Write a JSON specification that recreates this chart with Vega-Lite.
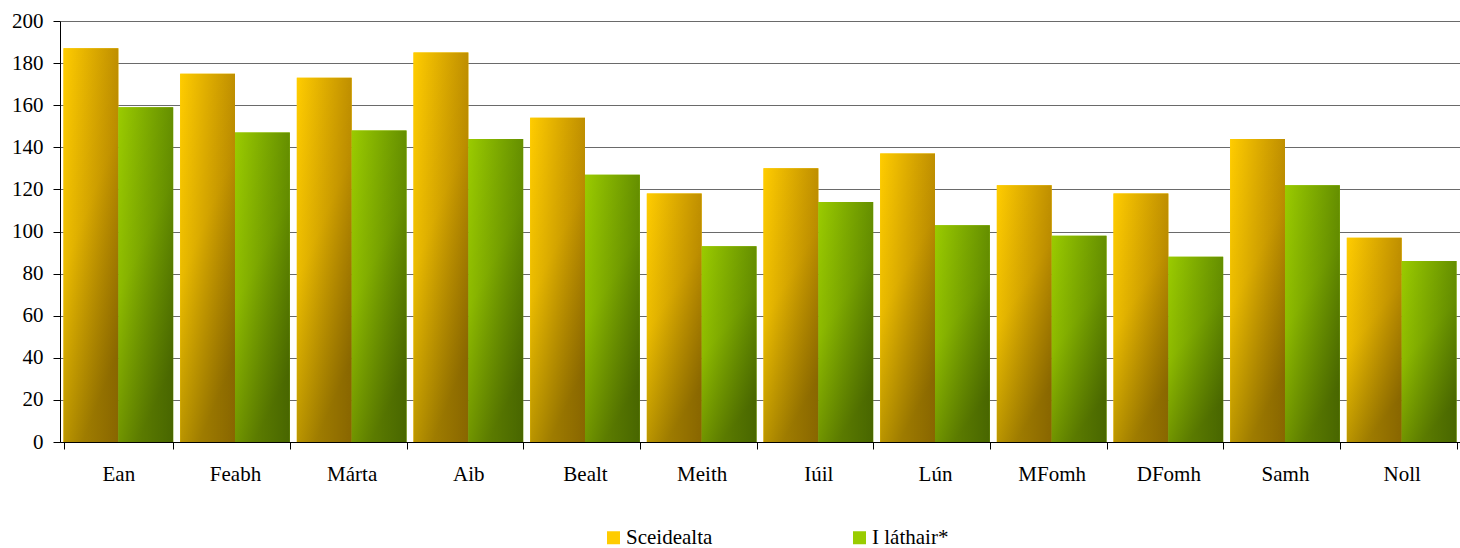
{
  "$schema": "https://vega.github.io/schema/vega-lite/v6.json",
  "autosize": "none",
  "width": 1400,
  "height": 421,
  "padding": {"left": 60, "top": 21, "right": 0, "bottom": 106},
  "background": "white",
  "config": {
    "view": {"stroke": null},
    "font": "Liberation Serif, Times New Roman, serif",
    "axis": {"labelFont": "Liberation Serif, Times New Roman, serif", "labelFontSize": 21, "labelColor": "#000", "domainColor": "#000", "tickColor": "#000", "title": null},
    "legend": {"labelFont": "Liberation Serif, Times New Roman, serif", "labelFontSize": 21, "labelColor": "#000"}
  },
  "data": {"values": [
    {"month": "Ean", "series": "Sceidealta", "value": 187},
    {"month": "Ean", "series": "I láthair*", "value": 159},
    {"month": "Feabh", "series": "Sceidealta", "value": 175},
    {"month": "Feabh", "series": "I láthair*", "value": 147},
    {"month": "Márta", "series": "Sceidealta", "value": 173},
    {"month": "Márta", "series": "I láthair*", "value": 148},
    {"month": "Aib", "series": "Sceidealta", "value": 185},
    {"month": "Aib", "series": "I láthair*", "value": 144},
    {"month": "Bealt", "series": "Sceidealta", "value": 154},
    {"month": "Bealt", "series": "I láthair*", "value": 127},
    {"month": "Meith", "series": "Sceidealta", "value": 118},
    {"month": "Meith", "series": "I láthair*", "value": 93},
    {"month": "Iúil", "series": "Sceidealta", "value": 130},
    {"month": "Iúil", "series": "I láthair*", "value": 114},
    {"month": "Lún", "series": "Sceidealta", "value": 137},
    {"month": "Lún", "series": "I láthair*", "value": 103},
    {"month": "MFomh", "series": "Sceidealta", "value": 122},
    {"month": "MFomh", "series": "I láthair*", "value": 98},
    {"month": "DFomh", "series": "Sceidealta", "value": 118},
    {"month": "DFomh", "series": "I láthair*", "value": 88},
    {"month": "Samh", "series": "Sceidealta", "value": 144},
    {"month": "Samh", "series": "I láthair*", "value": 122},
    {"month": "Noll", "series": "Sceidealta", "value": 97},
    {"month": "Noll", "series": "I láthair*", "value": 86}
  ]},
  "encoding": {
    "x": {
      "field": "month", "type": "nominal", "sort": null,
      "scale": {"paddingInner": 0.06, "paddingOuter": 0.03},
      "axis": {"labelAngle": 0, "tickBand": "extent", "tickSize": 7, "labelPadding": 14, "domainWidth": 1, "tickWidth": 1}
    },
    "xOffset": {"field": "series", "type": "nominal", "scale": {"domain": ["Sceidealta", "I láthair*"], "paddingInner": 0, "paddingOuter": 0}},
    "y": {
      "field": "value", "type": "quantitative",
      "scale": {"domain": [0, 200], "nice": false},
      "axis": {"values": [0, 20, 40, 60, 80, 100, 120, 140, 160, 180, 200], "tickSize": 7, "labelPadding": 10, "gridColor": "#6a6a6a", "gridWidth": 1.2, "domainWidth": 1}
    }
  },
  "layer": [
    {
      "mark": {"type": "bar", "stroke": null},
      "encoding": {
        "color": {
          "field": "series", "type": "nominal",
          "scale": {"domain": ["Sceidealta", "I láthair*"], "range": ["#ffcc00", "#99cc00"]},
          "legend": {
            "title": null, "orient": "none", "legendX": 543, "legendY": 506, "direction": "horizontal",
            "columns": 2, "columnPadding": 136, "symbolType": "square", "symbolSize": 169, "symbolStrokeWidth": 0, "labelOffset": 2, "padding": 0,
            "encode": {"symbols": {"update": {"opacity": {"value": 1}, "fill": [
              {"test": "datum.value == 'Sceidealta'", "value": {"gradient": "linear", "x1": 0, "y1": 0, "x2": 1, "y2": 1, "stops": [{"offset": 0, "color": "#ffcc00"}, {"offset": 1, "color": "#7f6000"}]}},
              {"value": {"gradient": "linear", "x1": 0, "y1": 0, "x2": 1, "y2": 1, "stops": [{"offset": 0, "color": "#99cc00"}, {"offset": 1, "color": "#445f00"}]}}
            ]}}}
          }
        }
      }
    },
    {
      "mark": {"type": "bar", "stroke": null},
      "encoding": {
        "fill": {
          "condition": {"test": "datum.series == 'Sceidealta'", "value": {"gradient": "linear", "x1": 0, "y1": 0, "x2": 1, "y2": 0, "stops": [{"offset": 0, "color": "#ffcc00"}, {"offset": 1, "color": "#c99600"}]}},
          "value": {"gradient": "linear", "x1": 0, "y1": 0, "x2": 1, "y2": 0, "stops": [{"offset": 0, "color": "#9acb00"}, {"offset": 1, "color": "#6a9600"}]}
        }
      }
    },
    {
      "mark": {"type": "bar", "stroke": null, "fill": {"gradient": "linear", "x1": 0, "y1": 0, "x2": 0.35, "y2": 1, "stops": [{"offset": 0, "color": "rgba(0,0,0,0)"}, {"offset": 0.5, "color": "rgba(0,0,0,0.08)"}, {"offset": 1, "color": "rgba(0,0,0,0.32)"}]}}
    }
  ]
}
